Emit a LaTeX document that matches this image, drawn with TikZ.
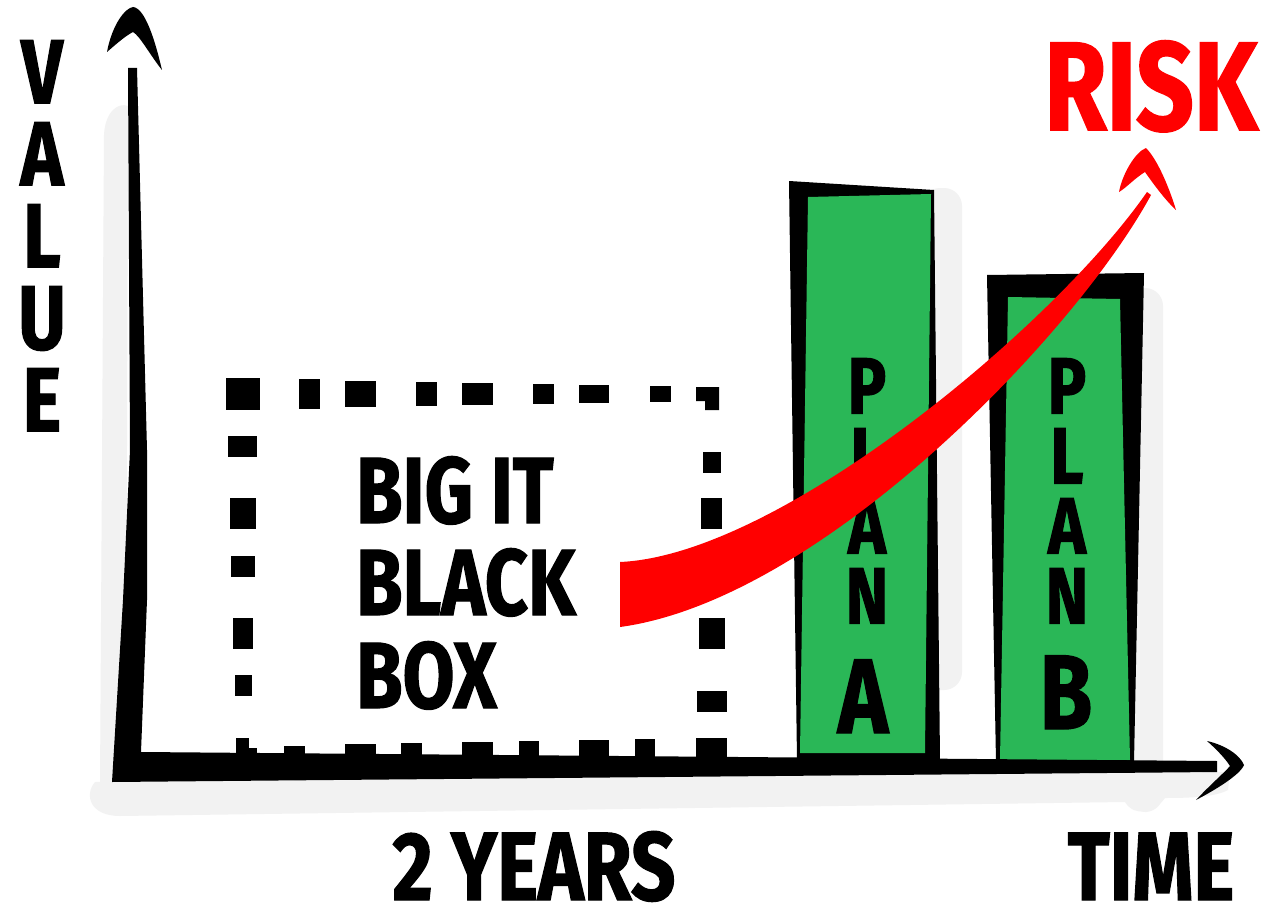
\documentclass[tikz,border=0pt]{standalone}
\usepackage{fontspec}
\newfontfamily\hand{Fira Sans}[FakeStretch=0.8, FakeBold=1.3]
\definecolor{shadowgray}{HTML}{F2F2F2}
\definecolor{plangreen}{HTML}{2AB757}
\definecolor{riskred}{HTML}{FF0000}
\begin{document}
\begin{tikzpicture}[x=1pt,y=-1pt,
  shade/.style={fill=shadowgray},
  ink/.style={fill=black},
  dashbit/.style={fill=black},
  greenfill/.style={fill=plangreen},
  lbl/.style={inner sep=0pt, anchor=base},
  axislbl/.style={inner sep=0pt, anchor=north, align=center, font=\hand\bfseries\fontsize{91}{82}\selectfont},
  boxlbl/.style={inner sep=0pt, anchor=base west, font=\hand\bfseries\fontsize{94}{94}\selectfont},
  planlbl/.style={inner sep=0pt, anchor=north, align=center, font=\hand\bfseries\fontsize{80}{70}\selectfont},
  planbig/.style={lbl, font=\hand\bfseries\fontsize{106}{106}\selectfont},
  risklbl/.style={lbl, text=riskred, font=\hand\bfseries\fontsize{126}{126}\selectfont},
  timelbl/.style={lbl, font=\hand\bfseries\fontsize{97}{97}\selectfont},
]
\useasboundingbox (0,0) rectangle (1262,907);
\fill[white] (0,0) rectangle (1262,907);

% shadows
\fill[shade] (100,785) -- (104,135) .. controls (105,112) and (118,102) .. (128,106) -- (126,785) -- cycle;
\fill[shade] (95,782) -- (1230,772) -- (1228,790) .. controls (1215,797) and (1190,798) .. (1165,798)
  .. controls (1155,812) and (1135,818) .. (1125,802) -- (120,816) .. controls (90,816) and (84,795) .. cycle;
\fill[shade, rounded corners=18] (922,188) rectangle (962,690);
\fill[shade, rounded corners=18] (1128,288) rectangle (1163,812);

% Plan A bar
\fill[ink] (789,181) -- (934,190) -- (940,760) -- (797,760) -- cycle;
\fill[greenfill] (808,197) -- (931,194) -- (925,753) -- (800,753) -- cycle;
% Plan B bar
\fill[ink] (987,275) -- (1144,273) -- (1134,762) -- (996,762) -- cycle;
\fill[greenfill] (1008,297) -- (1120,299) -- (1130,760) -- (1000,760) -- cycle;

% Plan letters
\node[planlbl] (plana) at (867,358) {P\\L\\A\\N};
\node[planbig] (planaend) at (863,733) {A};
\node[planlbl] (planb) at (1067,358) {P\\L\\A\\N};
\node[planbig] (planbend) at (1066,729) {B};

% dashed box
\foreach \a/\b/\c/\d in {226/378/260/410, 299/379/320/409, 345/381/376/407, 416/382/437/406,
  462/383/493/405, 533/384/554/404, 579/385/609/403, 650/386/671/402,
  228/436/257/457, 230/498/256/529, 231/556/255/577, 233/618/253/649, 235/675/252/696, 236/738/249/757,
  703/452/721/473, 701/498/722/529, 699/618/725/649, 697/691/727/712, 696/738/727/757,
  284/746/305/757, 345/744/376/757, 401/743/422/757, 462/742/493/757, 519/741/539/757,
  579/740/609/757, 635/739/655/757}
  \fill[dashbit] (\a,\b) rectangle (\c,\d);
\fill[dashbit] (696,387) -- (719,387) -- (719,410) -- (705,410) -- (705,401) -- (696,401) -- cycle;
\fill[dashbit] (249,748) rectangle (257,757);

\node[boxlbl] (bb1) at (356,523) {BIG IT};
\node[boxlbl] (bb2) at (356,615) {BLACK};
\node[boxlbl] (bb3) at (356,708) {BOX};

% axes
\fill[ink] (128,68) -- (137,68) -- (147,450) -- (147,600) -- (141,752) -- (1217,761) -- (1217,772)
  -- (112,782) -- (123,600) -- (130,450) -- cycle;
\fill[ink] (107,52) .. controls (112,25) and (125,8) .. (133,7) .. controls (145,8) and (155,40) .. (162,70)
  .. controls (150,55) and (140,36) .. (133,32) .. controls (125,36) and (114,46) .. cycle;
\fill[ink] (1207,741) .. controls (1225,745) and (1240,755) .. (1244,765) .. controls (1240,775) and (1215,790) .. (1196,800)
  .. controls (1210,785) and (1225,772) .. (1230,766) .. controls (1225,758) and (1215,748) .. cycle;

% risk arrow
\fill[riskred] (620,562) .. controls (780,555) and (1055,325) .. (1147,192) -- (1151,195)
  .. controls (1075,335) and (820,600) .. (620,627) -- cycle;
\fill[riskred] (1119,192) .. controls (1122,175) and (1135,152) .. (1146,148) .. controls (1158,160) and (1170,190) .. (1176,210)
  .. controls (1165,200) and (1152,182) .. (1145,172) .. controls (1135,178) and (1126,188) .. cycle;

% labels
\node[axislbl] (value) at (42,40) {V\\A\\L\\U\\E};
\node[risklbl] (risk) at (1151,130) {RISK};
\node[timelbl] (years) at (534,900) {2 YEARS};
\node[timelbl] (time) at (1151,900) {TIME};
\end{tikzpicture}
\end{document}
